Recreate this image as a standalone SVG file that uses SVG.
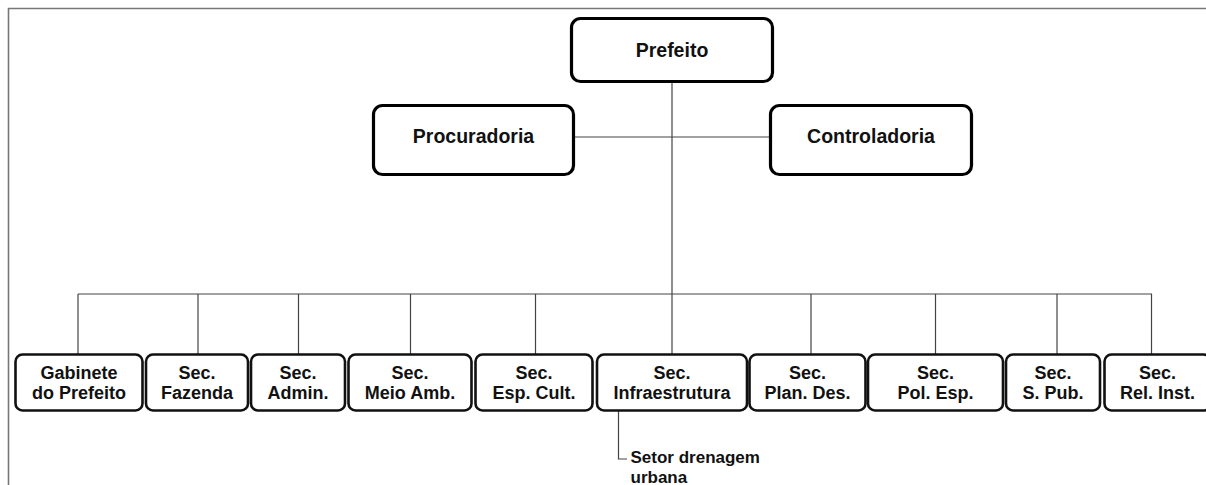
<svg xmlns="http://www.w3.org/2000/svg" width="1206" height="485" viewBox="0 0 1206 485">
<style>
.top rect{fill:#fff;stroke:#000;stroke-width:3.2}
.bot rect{fill:#fff;stroke:#111;stroke-width:2.6}
text{font-family:"Liberation Sans",Arial,sans-serif;font-weight:bold;fill:#111;text-anchor:middle}
.tt{font-size:19.5px}
.bt{font-size:18px}
.st{font-size:17px;text-anchor:start}
.conn line,.conn path{stroke:#444;stroke-width:1.2;fill:none}
.frame{stroke:#777;stroke-width:1.6;fill:none}
</style>
<rect width="1206" height="485" fill="#fff"/>
<path class="frame" d="M8.5,485 V8.5 H1206"/>
<g class="conn" id="connectors">
<line x1="672" y1="82" x2="672" y2="294"/>
<line x1="573" y1="137" x2="770" y2="137"/>
<line x1="78" y1="294" x2="1152" y2="294"/>
<line x1="78" y1="294" x2="78" y2="354"/>
<line x1="198" y1="294" x2="198" y2="354"/>
<line x1="298.5" y1="294" x2="298.5" y2="354"/>
<line x1="410.5" y1="294" x2="410.5" y2="354"/>
<line x1="535.5" y1="294" x2="535.5" y2="354"/>
<line x1="672" y1="294" x2="672" y2="354"/>
<line x1="811" y1="294" x2="811" y2="354"/>
<line x1="935.5" y1="294" x2="935.5" y2="354"/>
<line x1="1057" y1="294" x2="1057" y2="354"/>
<line x1="1151.5" y1="294" x2="1151.5" y2="354"/>
<path d="M618.5,410 V459 H627"/>
</g>
<g class="top" id="prefeito"><rect x="571.5" y="18.5" width="201" height="63" rx="9"/><text class="tt" x="672" y="57">Prefeito</text></g>
<g class="top" id="procuradoria"><rect x="373.5" y="105.5" width="200" height="69" rx="9"/><text class="tt" x="473.5" y="143">Procuradoria</text></g>
<g class="top" id="controladoria"><rect x="770.5" y="105.5" width="201" height="69" rx="9"/><text class="tt" x="871" y="143">Controladoria</text></g>
<g class="bot" id="gabinete"><rect x="15.5" y="354.5" width="127" height="56" rx="7"/><text class="bt" x="79" y="379">Gabinete</text><text class="bt" x="79" y="399">do Prefeito</text></g>
<g class="bot" id="fazenda"><rect x="146" y="354.5" width="102" height="56" rx="7"/><text class="bt" x="197" y="379">Sec.</text><text class="bt" x="197" y="399">Fazenda</text></g>
<g class="bot" id="admin"><rect x="251" y="354.5" width="94" height="56" rx="7"/><text class="bt" x="298" y="379">Sec.</text><text class="bt" x="298" y="399">Admin.</text></g>
<g class="bot" id="meioamb"><rect x="348.5" y="354.5" width="123" height="56" rx="7"/><text class="bt" x="410" y="379">Sec.</text><text class="bt" x="410" y="399">Meio Amb.</text></g>
<g class="bot" id="espcult"><rect x="475.5" y="354.5" width="117" height="56" rx="7"/><text class="bt" x="534" y="379">Sec.</text><text class="bt" x="534" y="399">Esp. Cult.</text></g>
<g class="bot" id="infra"><rect x="597" y="354.5" width="150" height="56" rx="7"/><text class="bt" x="672" y="379">Sec.</text><text class="bt" x="672" y="399">Infraestrutura</text></g>
<g class="bot" id="plandes"><rect x="749.5" y="354.5" width="116" height="56" rx="7"/><text class="bt" x="807.5" y="379">Sec.</text><text class="bt" x="807.5" y="399">Plan. Des.</text></g>
<g class="bot" id="polesp"><rect x="868" y="354.5" width="135" height="56" rx="7"/><text class="bt" x="935.5" y="379">Sec.</text><text class="bt" x="935.5" y="399">Pol. Esp.</text></g>
<g class="bot" id="spub"><rect x="1006" y="354.5" width="94" height="56" rx="7"/><text class="bt" x="1053" y="379">Sec.</text><text class="bt" x="1053" y="399">S. Pub.</text></g>
<g class="bot" id="relinst"><rect x="1104.5" y="354.5" width="106" height="56" rx="7"/><text class="bt" x="1157.5" y="379">Sec.</text><text class="bt" x="1157.5" y="399">Rel. Inst.</text></g>
<g id="setor"><text class="st" x="630.5" y="463">Setor drenagem</text><text class="st" x="630.5" y="483">urbana</text></g>
</svg>
